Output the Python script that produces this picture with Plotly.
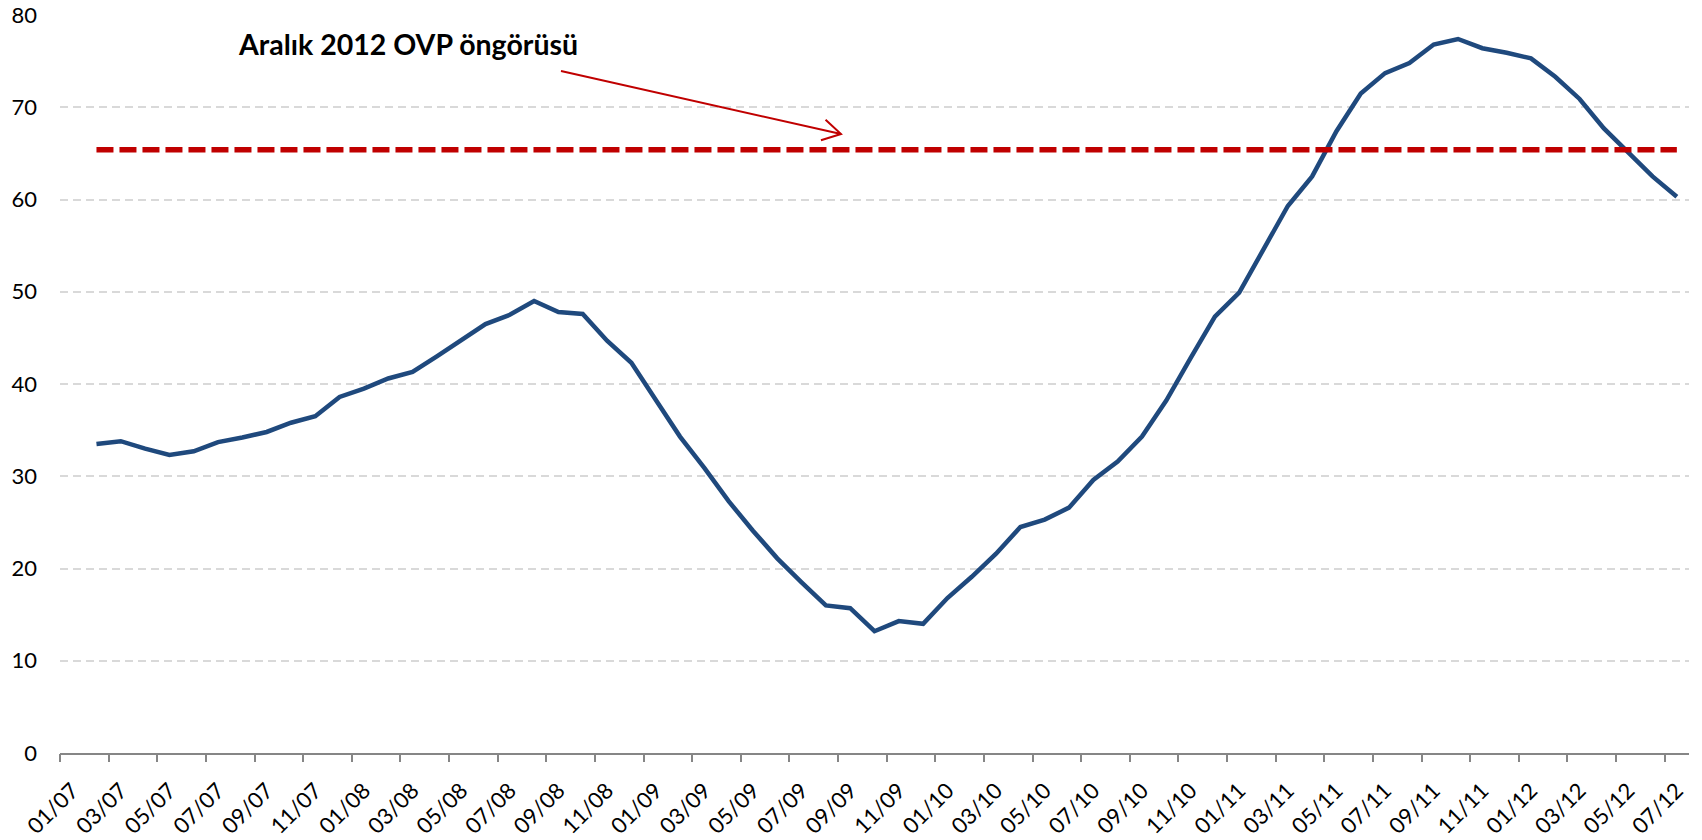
import math
import plotly.graph_objects as go

# ---- data -------------------------------------------------------------
months = [f"{m:02d}/{y:02d}" for y in range(7, 13) for m in range(1, 13)][:67]  # 01/07 .. 07/12

cari_acik = [None, 33.5, 33.8, 33.0, 32.3, 32.7, 33.7, 34.2, 34.8, 35.8, 36.5, 38.6, 39.5,
             40.6, 41.3, 43.0, 44.7, 46.5, 47.5, 49.0, 47.8, 47.6, 44.7, 42.3, 38.3, 34.3, 30.9, 27.3,
             24.1, 21.1, 18.5, 16.0, 15.7, 13.2, 14.3, 14.0, 16.8, 19.1, 21.6, 24.5, 25.3, 26.6, 29.6,
             31.6, 34.3, 38.2, 42.8, 47.3, 49.9, 54.5, 59.3, 62.5, 67.4, 71.5, 73.7, 74.8, 76.8, 77.4,
             76.4, 75.9, 75.3, 73.3, 70.9, 67.7, 65.1, 62.5, 60.3]

ovp_forecast = 65.4
ovp_months = [months[1], months[-1]]
ovp_values = [ovp_forecast, ovp_forecast]

tick_labels = months[::2]
y_ticks = [0, 10, 20, 30, 40, 50, 60, 70, 80]
annotation_text = "Aralık 2012 OVP öngörüsü"

# ---- layout geometry (pixels) ----------------------------------------
W, H = 1702, 840
ML, MR, MT, MB = 60, 13, 15, 87
PW = W - ML - MR
PH = H - MT - MB


def to_paper(px, py):
    return ((px - ML) / PW, (H - MB - py) / PH)


BLUE = "#1F497D"
RED = "#C00000"
GRID = "#D9D9D9"
AXIS = "#868686"
FONT = "Lato"

fig = go.Figure()
fig.add_trace(go.Scatter(x=months, y=cari_acik, mode="lines",
                         line=dict(color=BLUE, width=4.5), hoverinfo="skip",
                         connectgaps=False))
fig.add_trace(go.Scatter(x=ovp_months, y=ovp_values, mode="lines",
                         line=dict(color=RED, width=5.5, dash="17px,6px"), hoverinfo="skip"))
# empty trace so the boundary-tick axis is created
fig.add_trace(go.Scatter(x=[], y=[], xaxis="x2", yaxis="y", mode="lines", hoverinfo="skip"))

n = len(months)
boundaries = [i - 0.5 for i in range(0, n, 2)]

fig.update_layout(
    width=W, height=H,
    margin=dict(l=ML, r=MR, t=MT, b=MB, pad=0, autoexpand=False),
    plot_bgcolor="white", paper_bgcolor="white",
    showlegend=False,
    font=dict(family=FONT, size=22, color="black"),
    xaxis=dict(type="category", categoryorder="array", categoryarray=months,
               range=[-0.5, n - 0.5], tickmode="array", tickvals=tick_labels,
               ticktext=tick_labels, tickangle=-45, ticks="", automargin=False,
               showline=True, linecolor=AXIS, linewidth=2, showgrid=False,
               zeroline=False, ticklabelstandoff=14,
               tickfont=dict(family=FONT, size=22, color="black")),
    xaxis2=dict(overlaying="x", anchor="y", side="bottom", range=[-0.5, n - 0.5],
                type="linear", automargin=False,
                tickmode="array", tickvals=boundaries, ticks="outside", ticklen=8,
                tickwidth=1.5, tickcolor=AXIS, showticklabels=False, showgrid=False,
                zeroline=False, showline=False),
    yaxis=dict(range=[0, 80], tickmode="array", tickvals=y_ticks, showgrid=True,
               gridcolor=GRID, griddash="8px,5px", gridwidth=1.5, zeroline=False,
               showline=False, ticks="", ticklabelstandoff=22, automargin=False,
               tickfont=dict(family=FONT, size=22, color="black")),
)

ax_, ay_ = to_paper(236, 44)
fig.add_annotation(text=annotation_text, xref="paper", yref="paper", x=ax_, y=ay_,
                   xanchor="left", yanchor="middle", showarrow=False,
                   font=dict(family=FONT, size=28.5, color="black", weight="bold"))

# arrow pointing to the forecast line
sx, sy = 561, 71
tx, ty = 841, 134
ang = math.atan2(ty - sy, tx - sx)
arm = 21
pts = []
for d in (math.radians(30), -math.radians(30)):
    a = ang + math.pi + d
    pts.append((tx + arm * math.cos(a), ty + arm * math.sin(a)))


def P(px, py):
    x, y = to_paper(px, py)
    return f"{x:.5f},{y:.5f}"


path = (f"M {P(sx, sy)} L {P(tx, ty)} "
        f"M {P(*pts[0])} L {P(tx, ty)} L {P(*pts[1])}")
fig.add_shape(type="path", path=path, xref="paper", yref="paper",
              line=dict(color=RED, width=2))

fig.write_html("out.html", config={"displayModeBar": False},
               post_script="document.body.style.margin='0';document.body.style.overflow='hidden';")
